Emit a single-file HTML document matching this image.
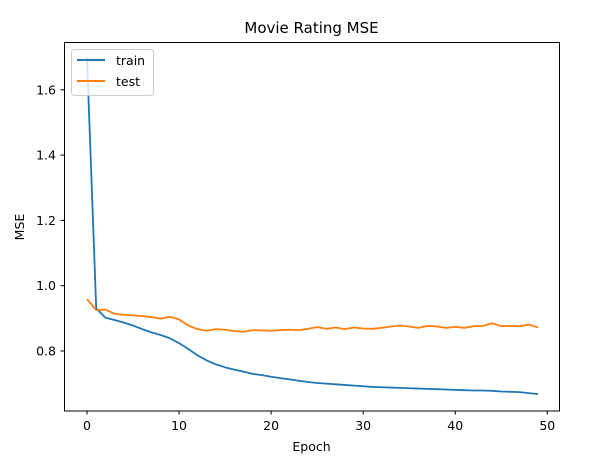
<!DOCTYPE html>
<html><head><meta charset="utf-8"><style>
body{margin:0;background:#fff;}
svg{display:block;font-family:"DejaVu Sans","Liberation Sans",sans-serif;}
</style></head><body>
<svg id="chart" width="592" height="458">
<rect width="592" height="458" fill="#fff"/>
<text x="311.5" y="33" text-anchor="middle" font-size="15">Movie Rating MSE</text>
<g id="xticks"></g><g id="yticks"></g>
<g id="lines"></g>
<rect x="64.5" y="42.5" width="495" height="368.5" fill="none" stroke="#000" stroke-width="1"/>
<text x="311.5" y="451" text-anchor="middle" font-size="12.5">Epoch</text>
<text x="24" y="227" text-anchor="middle" font-size="12.5" transform="rotate(-90 24 227)">MSE</text>
<g>
<rect x="71.5" y="49.5" width="82" height="46" rx="3" fill="#fff" fill-opacity="0.8" stroke="#ccc"/>
<line x1="77" y1="60" x2="105" y2="60" stroke="#1f77b4" stroke-width="2"/>
<text x="116" y="65" font-size="12.5">train</text>
<line x1="77" y1="81" x2="105" y2="81" stroke="#ff7f0e" stroke-width="2"/>
<text x="116" y="86" font-size="12.5">test</text>
</g>
</svg>
<script>
const xTicks=[0,10,20,30,40,50];
const yTicks=[0.8,1.0,1.2,1.4,1.6];
const yTickLabels=["0.8","1.0","1.2","1.4","1.6"];
const trainValues=[1.70,0.931,0.902,0.895,0.887,0.878,0.867,0.857,0.849,0.839,0.824,0.806,0.787,0.771,0.759,0.750,0.743,0.737,0.730,0.726,0.721,0.717,0.713,0.709,0.705,0.702,0.700,0.698,0.696,0.694,0.692,0.690,0.689,0.688,0.687,0.686,0.685,0.684,0.683,0.682,0.681,0.680,0.679,0.679,0.678,0.676,0.675,0.674,0.671,0.668];
const testValues=[0.959,0.925,0.927,0.914,0.911,0.909,0.907,0.904,0.899,0.905,0.897,0.878,0.867,0.862,0.867,0.865,0.861,0.859,0.864,0.863,0.862,0.864,0.865,0.864,0.868,0.873,0.868,0.872,0.867,0.872,0.869,0.868,0.871,0.875,0.878,0.875,0.871,0.877,0.875,0.871,0.874,0.871,0.876,0.877,0.885,0.876,0.877,0.876,0.881,0.872];
const NS="http://www.w3.org/2000/svg";
function xs(v){return 87+v*9.206;}
function ys(v){return 351-(v-0.8)*326.5;}
function mk(t,a,p){const e=document.createElementNS(NS,t);for(const k in a)e.setAttribute(k,a[k]);p.appendChild(e);return e;}
const xg=document.getElementById('xticks'),yg=document.getElementById('yticks'),lg=document.getElementById('lines');
xTicks.forEach(t=>{
 const l=mk('line',{x1:xs(t),x2:xs(t),y1:411,y2:414.5,stroke:'#000'},xg);
 
 
 const tx=mk('text',{x:xs(t),y:430,'text-anchor':'middle','font-size':12.5},xg);tx.textContent=t;
 
 
});
yTicks.forEach((t,i)=>{
 const l=mk('line',{x1:60.5,x2:64.5,y1:ys(t),y2:ys(t),stroke:'#000'},yg);
 
 
 const tx=mk('text',{x:56,y:ys(t)+4.5,'text-anchor':'end','font-size':12.5},yg);tx.textContent=yTickLabels[i];
 
 
});
function line(vals,c,name){
 const p=mk('polyline',{points:vals.map((v,i)=>xs(i)+','+ys(v)).join(' '),fill:'none',stroke:c,'stroke-width':1.8,'stroke-linejoin':'round'},lg);
 
 
}
line(trainValues,'#1f77b4','train-line');
line(testValues,'#ff7f0e','test-line');
</script>
</body></html>
